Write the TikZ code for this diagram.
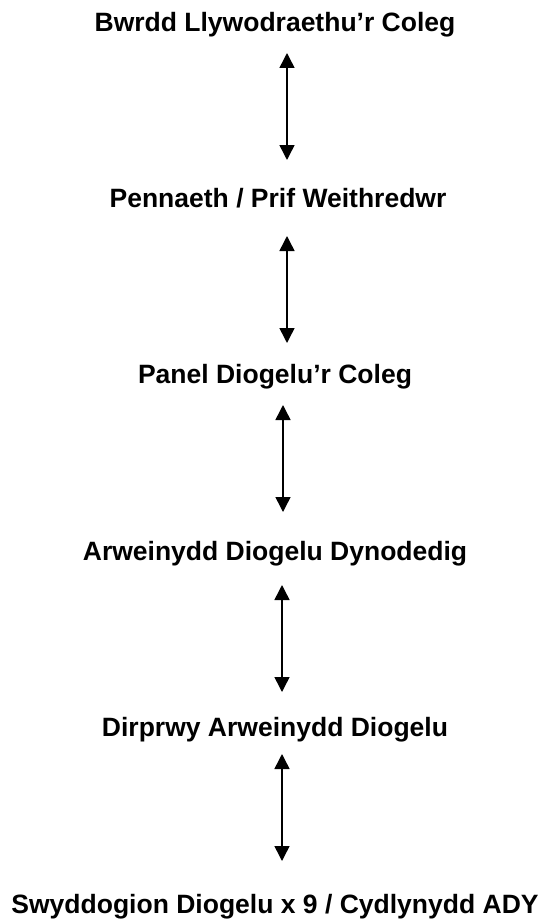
\documentclass[tikz,border=0pt]{standalone}
\usepackage{fontspec}
\setmainfont{Liberation Sans}
\usetikzlibrary{arrows.meta}
\begin{document}
\begin{tikzpicture}[x=1pt,y=-1pt,
  lbl/.style={anchor=base,inner sep=0pt,font=\fontsize{26.5}{31}\selectfont\bfseries},
  link/.style={line width=1.5pt,{Triangle[width=15pt,length=15pt]}-{Triangle[width=15pt,length=15pt]}}]
\useasboundingbox (0,0) rectangle (543,923);
\node[lbl] (t1) at (275,32) {Bwrdd Llywodraethu’r Coleg};
\node[lbl] (t2) at (278,207) {Pennaeth / Prif Weithredwr};
\node[lbl] (t3) at (275,383) {Panel Diogelu’r Coleg};
\node[lbl] (t4) at (275,560) {Arweinydd Diogelu Dynodedig};
\node[lbl] (t5) at (275,736) {Dirprwy Arweinydd Diogelu};
\node[lbl] (t6) at (275,913) {Swyddogion Diogelu x 9 / Cydlynydd ADY};
\coordinate (a1t) at (287,53);  \coordinate (a1b) at (287,160);
\coordinate (a2t) at (287,236); \coordinate (a2b) at (287,343);
\coordinate (a3t) at (283,405); \coordinate (a3b) at (283,512);
\coordinate (a4t) at (282,585); \coordinate (a4b) at (282,692);
\coordinate (a5t) at (282,754); \coordinate (a5b) at (282,861);
\draw[link] (a1t) -- (a1b);
\draw[link] (a2t) -- (a2b);
\draw[link] (a3t) -- (a3b);
\draw[link] (a4t) -- (a4b);
\draw[link] (a5t) -- (a5b);
\end{tikzpicture}
\end{document}
